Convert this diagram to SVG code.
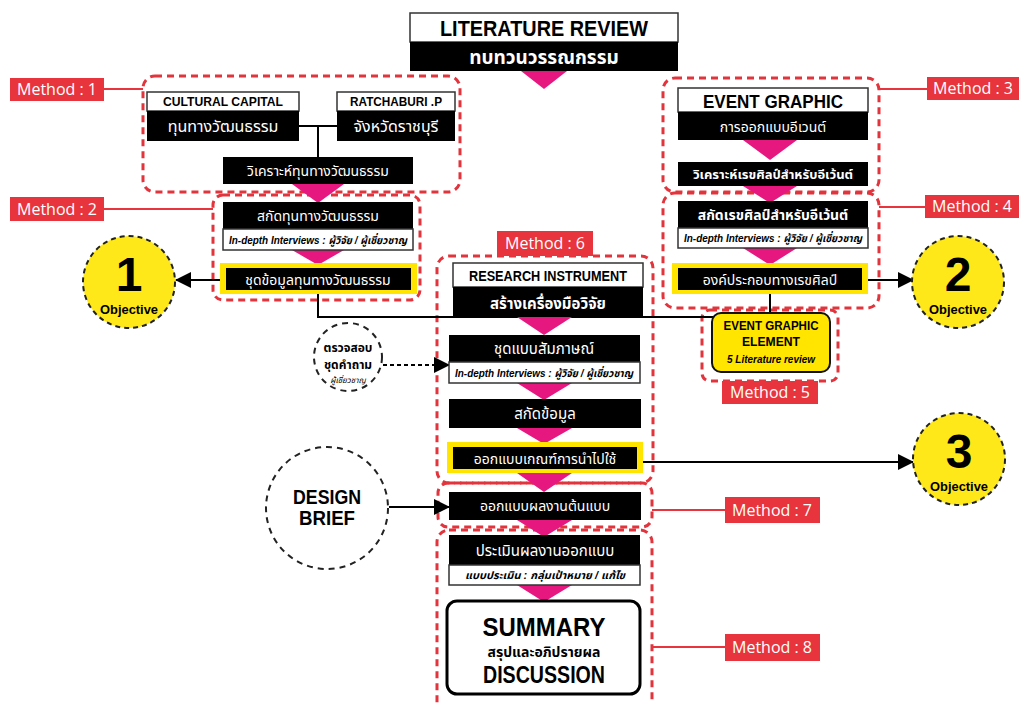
<svg xmlns="http://www.w3.org/2000/svg" width="1019" height="704" viewBox="0 0 1019 704">
<defs>
<style>
.dash{fill:none;stroke:#e2343c;stroke-width:3;stroke-dasharray:7 5}
.lr{fill:#e8343c}
.lt{fill:#fff;font-family:"Open Sans","Noto Sans","Liberation Sans",sans-serif;font-size:16px}
.ll{stroke:#e8343c;stroke-width:2;fill:none}
.blk{fill:#000}
.wht{fill:#fff;stroke:#333;stroke-width:1.5}
.tri{fill:#e6187f}
.yel{fill:#ffe500}
.en{font-family:"Liberation Sans Narrow","Liberation Sans",Arial,sans-serif;font-weight:bold;text-anchor:middle}
.th{font-family:"Noto Sans Thai","Noto Sans Thai UI","Loma","Garuda","Noto Sans","DejaVu Sans",sans-serif;text-anchor:middle}
.w{fill:#fff}
.it{font-family:"Liberation Sans Narrow","Liberation Sans","Noto Sans Thai",sans-serif;font-style:italic;font-weight:bold;font-size:10.5px;text-anchor:middle}
.con{stroke:#000;stroke-width:2;fill:none}
.obj{fill:#ffe81a;stroke:#222;stroke-width:2;stroke-dasharray:5 4}
.cir{fill:#fff;stroke:#222;stroke-width:2;stroke-dasharray:6 5}
</style>
<marker id="ahb" markerWidth="16" markerHeight="16" refX="15" refY="8" orient="auto" markerUnits="userSpaceOnUse">
<path d="M0,0 L16,8 L0,16 z" fill="#000"/>
</marker>
</defs>
<rect width="1019" height="704" fill="#fff"/>

<!-- dashed method frames -->
<g id="frames">
<rect class="dash" x="143" y="76" width="317" height="116" rx="12"/>
<rect class="dash" x="213" y="195" width="207" height="105" rx="10"/>
<rect class="dash" x="663" y="78" width="216" height="114" rx="12"/>
<rect class="dash" x="663" y="193" width="216" height="115" rx="12"/>
<rect class="dash" x="702" y="310" width="136" height="71" rx="8"/>
<rect class="dash" x="437" y="256" width="216" height="227" rx="12"/>
<rect class="dash" x="438" y="483" width="214" height="44" rx="10"/>
<rect class="dash" x="437" y="530" width="215" height="185" rx="12"/>
</g>

<!-- connectors -->
<g id="connectors">
<line class="ll" x1="104" y1="89" x2="143" y2="89"/>
<line class="ll" x1="104" y1="209" x2="213" y2="209"/>
<line class="ll" x1="879" y1="89" x2="927" y2="89"/>
<line class="ll" x1="879" y1="207" x2="925" y2="207"/>
<line class="ll" x1="652" y1="510" x2="725" y2="510"/>
<line class="ll" x1="652" y1="647" x2="725" y2="647"/>
<path class="con" d="M299,126 H337 M318,126 V157"/>
<line class="con" x1="220" y1="280" x2="176" y2="280" marker-end="url(#ahb)"/>
<line class="con" x1="868" y1="280" x2="913" y2="280" marker-end="url(#ahb)"/>
<path class="con" d="M318,293 V317 H770"/>
<line class="con" x1="770" y1="293" x2="770" y2="313"/>
<line stroke="#000" stroke-width="2" stroke-dasharray="4 3" x1="383" y1="365" x2="449" y2="365" marker-end="url(#ahb)"/>
<line class="con" x1="643" y1="462" x2="913" y2="462" marker-end="url(#ahb)"/>
<line class="con" x1="389" y1="507" x2="449" y2="507" marker-end="url(#ahb)"/>
</g>

<!-- method labels -->
<g id="method-labels">
<g id="m1"><rect class="lr" x="10" y="78" width="94" height="23"/><text class="lt" x="57" y="95" text-anchor="middle">Method : 1</text></g>
<g id="m2"><rect class="lr" x="10" y="197" width="94" height="24"/><text class="lt" x="57" y="215" text-anchor="middle">Method : 2</text></g>
<g id="m3"><rect class="lr" x="927" y="77" width="92" height="23"/><text class="lt" x="973" y="94" text-anchor="middle">Method : 3</text></g>
<g id="m4"><rect class="lr" x="925" y="195" width="94" height="23"/><text class="lt" x="972" y="212" text-anchor="middle">Method : 4</text></g>
<g id="m5"><rect class="lr" x="722" y="381" width="96" height="23"/><text class="lt" x="770" y="398" text-anchor="middle">Method : 5</text></g>
<g id="m6"><rect class="lr" x="497" y="231" width="96" height="25"/><text class="lt" x="545" y="249" text-anchor="middle">Method : 6</text></g>
<g id="m7"><rect class="lr" x="725" y="497" width="95" height="26"/><text class="lt" x="772" y="516" text-anchor="middle">Method : 7</text></g>
<g id="m8"><rect class="lr" x="725" y="634" width="95" height="27"/><text class="lt" x="772" y="653" text-anchor="middle">Method : 8</text></g>
</g>

<!-- pink flow triangles -->
<g id="triangles">
<path class="tri" d="M521,71 L567,71 L544,89 z"/>
<path class="tri" d="M292,184 L344,184 L318,203 z"/>
<path class="tri" d="M292,250 L344,250 L318,265 z"/>
<path class="tri" d="M743,140 L797,140 L770,160 z"/>
<path class="tri" d="M743,186 L797,186 L770,203 z"/>
<path class="tri" d="M743,248 L797,248 L770,265 z"/>
<path class="tri" d="M517,317 L572,317 L544,335 z"/>
<path class="tri" d="M517,383 L572,383 L544,400 z"/>
<path class="tri" d="M517,428 L572,428 L544,444 z"/>
<path class="tri" d="M517,473 L572,473 L544,492 z"/>
<path class="tri" d="M517,520 L572,520 L544,537 z"/>
<path class="tri" d="M517,585 L572,585 L544,602 z"/>
</g>

<!-- nodes -->
<g id="literature-review">
<rect class="wht" x="410" y="13" width="268" height="29"/>
<rect class="blk" x="410" y="42" width="268" height="29"/>
<text class="en" x="544" y="36" font-size="22" textLength="208" lengthAdjust="spacingAndGlyphs">LITERATURE REVIEW</text>
<text class="th w" x="544" y="64" font-size="19" font-weight="bold">ทบทวนวรรณกรรม</text>
</g>

<g id="cultural-capital">
<rect class="wht" x="147" y="92" width="152" height="19"/>
<rect class="blk" x="147" y="111" width="152" height="30"/>
<text class="en" x="223" y="106" font-size="13" textLength="120" lengthAdjust="spacingAndGlyphs">CULTURAL CAPITAL</text>
<text class="th w" x="223" y="132" font-size="16">ทุนทางวัฒนธรรม</text>
</g>

<g id="ratchaburi">
<rect class="wht" x="337" y="92" width="118" height="19"/>
<rect class="blk" x="337" y="111" width="118" height="30"/>
<text class="en" x="396" y="106" font-size="13" textLength="92" lengthAdjust="spacingAndGlyphs">RATCHABURI .P</text>
<text class="th w" x="396" y="132" font-size="16">จังหวัดราชบุรี</text>
</g>

<g id="analyze-culture">
<rect class="blk" x="223" y="157" width="190" height="27"/>
<text class="th w" x="318" y="176" font-size="14">วิเคราะห์ทุนทางวัฒนธรรม</text>
</g>

<g id="extract-culture">
<rect class="blk" x="223" y="202" width="190" height="27"/>
<rect class="wht" x="223" y="229" width="190" height="21"/>
<text class="th w" x="318" y="221" font-size="14">สกัดทุนทางวัฒนธรรม</text>
<text class="it" x="318" y="244" textLength="178" lengthAdjust="spacingAndGlyphs">In-depth Interviews : ผู้วิจัย / ผู้เชี่ยวชาญ</text>
</g>

<g id="culture-dataset">
<rect class="yel" x="220" y="263" width="197" height="31"/>
<rect class="blk" x="226" y="268" width="185" height="22"/>
<text class="th w" x="318" y="285" font-size="14">ชุดข้อมูลทุนทางวัฒนธรรม</text>
</g>

<g id="event-graphic">
<rect class="wht" x="678" y="88" width="190" height="24"/>
<rect class="blk" x="678" y="112" width="190" height="28"/>
<text class="en" x="773" y="108" font-size="19" textLength="140" lengthAdjust="spacingAndGlyphs">EVENT GRAPHIC</text>
<text class="th w" x="773" y="132" font-size="14">การออกแบบอีเวนต์</text>
</g>

<g id="analyze-event">
<rect class="blk" x="678" y="162" width="190" height="24"/>
<text class="th w" x="773" y="179" font-size="13" font-weight="bold">วิเคราะห์เรขศิลป์สำหรับอีเว้นต์</text>
</g>

<g id="extract-event">
<rect class="blk" x="678" y="201" width="190" height="27"/>
<rect class="wht" x="678" y="228" width="190" height="20"/>
<text class="th w" x="773" y="220" font-size="14" font-weight="bold">สกัดเรขศิลป์สำหรับอีเว้นต์</text>
<text class="it" x="773" y="242" textLength="178" lengthAdjust="spacingAndGlyphs">In-depth Interviews : ผู้วิจัย / ผู้เชี่ยวชาญ</text>
</g>

<g id="art-elements">
<rect class="yel" x="672" y="263" width="196" height="31"/>
<rect class="blk" x="678" y="268" width="184" height="22"/>
<text class="th w" x="770" y="285" font-size="14">องค์ประกอบทางเรขศิลป์</text>
</g>

<g id="event-graphic-element">
<rect class="yel" x="712" y="313" width="118" height="59" rx="9" stroke="#111" stroke-width="2"/>
<text class="en" x="771" y="330" font-size="12.5" textLength="95" lengthAdjust="spacingAndGlyphs">EVENT GRAPHIC</text>
<text class="en" x="771" y="346" font-size="12.5" textLength="58" lengthAdjust="spacingAndGlyphs">ELEMENT</text>
<text class="it" x="771" y="363" textLength="88" lengthAdjust="spacingAndGlyphs">5 Literature review</text>
</g>

<g id="research-instrument">
<rect class="wht" x="453" y="263" width="190" height="24"/>
<rect class="blk" x="453" y="287" width="190" height="30"/>
<text class="en" x="548" y="281" font-size="14" textLength="158" lengthAdjust="spacingAndGlyphs">RESEARCH INSTRUMENT</text>
<text class="th w" x="548" y="309" font-size="15" font-weight="bold">สร้างเครื่องมือวิจัย</text>
</g>

<g id="interview-set">
<rect class="blk" x="449" y="335" width="191" height="27"/>
<rect class="wht" x="449" y="362" width="191" height="21"/>
<text class="th w" x="544" y="354" font-size="15">ชุดแบบสัมภาษณ์</text>
<text class="it" x="544" y="377" textLength="178" lengthAdjust="spacingAndGlyphs">In-depth Interviews  : ผู้วิจัย / ผู้เชี่ยวชาญ</text>
</g>

<g id="extract-data">
<rect class="blk" x="449" y="399" width="192" height="29"/>
<text class="th w" x="545" y="419" font-size="15">สกัดข้อมูล</text>
</g>

<g id="design-criteria">
<rect class="yel" x="447" y="442" width="196" height="31"/>
<rect class="blk" x="453" y="447" width="184" height="22"/>
<text class="th w" x="545" y="464" font-size="14">ออกแบบเกณฑ์การนำไปใช้</text>
</g>

<g id="prototype">
<rect class="blk" x="449" y="492" width="192" height="28"/>
<text class="th w" x="545" y="511" font-size="14">ออกแบบผลงานต้นแบบ</text>
</g>

<g id="evaluate">
<rect class="blk" x="449" y="535" width="191" height="30"/>
<rect class="wht" x="449" y="565" width="191" height="20"/>
<text class="th w" x="545" y="556" font-size="15">ประเมินผลงานออกแบบ</text>
<text class="it" x="545" y="579" textLength="160" lengthAdjust="spacingAndGlyphs">แบบประเมิน :  กลุ่มเป้าหมาย / แก้ไข</text>
</g>

<g id="summary">
<rect x="447" y="601" width="193" height="93" rx="10" fill="#fff" stroke="#000" stroke-width="3"/>
<text class="en" x="544" y="636" font-size="26" textLength="123" lengthAdjust="spacingAndGlyphs">SUMMARY</text>
<text class="th" x="544" y="657" font-size="14" font-weight="bold">สรุปและอภิปรายผล</text>
<text class="en" x="544" y="683" font-size="24" textLength="122" lengthAdjust="spacingAndGlyphs">DISCUSSION</text>
</g>

<g id="objective-1">
<circle class="obj" cx="129" cy="282" r="46"/>
<text class="en" x="129" y="291" font-size="48">1</text>
<text class="en" x="129" y="314" font-size="12.5" textLength="58" lengthAdjust="spacingAndGlyphs">Objective</text>
</g>

<g id="objective-2">
<circle class="obj" cx="958" cy="282" r="46"/>
<text class="en" x="958" y="291" font-size="48">2</text>
<text class="en" x="958" y="314" font-size="12.5" textLength="58" lengthAdjust="spacingAndGlyphs">Objective</text>
</g>

<g id="objective-3">
<circle class="obj" cx="959" cy="459" r="46"/>
<text class="en" x="959" y="468" font-size="48">3</text>
<text class="en" x="959" y="491" font-size="12.5" textLength="58" lengthAdjust="spacingAndGlyphs">Objective</text>
</g>

<g id="check-questions">
<circle class="cir" cx="348" cy="357" r="34" stroke-width="1.8"/>
<text class="th" x="348" y="352" font-size="12" font-weight="bold">ตรวจสอบ</text>
<text class="th" x="348" y="369" font-size="12" font-weight="bold">ชุดคำถาม</text>
<text class="th" x="348" y="383" font-size="8" font-style="italic">ผู้เชี่ยวชาญ</text>
</g>

<g id="design-brief">
<circle class="cir" cx="327" cy="508" r="61"/>
<text class="en" x="327" y="504" font-size="21" textLength="68" lengthAdjust="spacingAndGlyphs">DESIGN</text>
<text class="en" x="327" y="525" font-size="21" textLength="56" lengthAdjust="spacingAndGlyphs">BRIEF</text>
</g>
</svg>
